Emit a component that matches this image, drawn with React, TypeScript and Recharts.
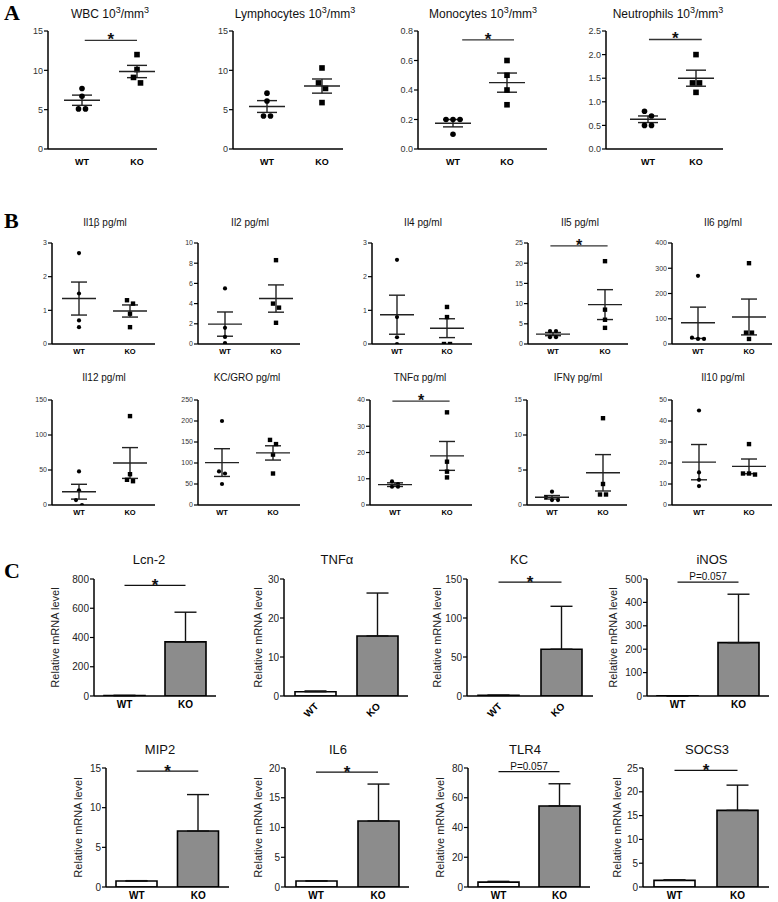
import React from 'react';
import {
  ScatterChart, Scatter, BarChart, Bar, Cell, XAxis, YAxis, ErrorBar, ReferenceLine,
} from 'recharts';

const groups = ['WT', 'KO'];
const sans = '"Liberation Sans", Arial, sans-serif';

// ---- panel A : blood counts (10^3/mm^3)
const aTitles = ['WBC', 'Lymphocytes', 'Monocytes', 'Neutrophils'];
const aMax = [15, 15, 0.8, 2.5];
const aTicks = [[0, 5, 10, 15], [0, 5, 10, 15], [0, 0.2, 0.4, 0.6, 0.8], [0, 0.5, 1, 1.5, 2, 2.5]];
const aDec = [0, 0, 1, 1];
const aWT = [[7.7, 6.7, 5.1, 5.1], [7.1, 6.1, 4.2, 4.2], [0.2, 0.2, 0.2, 0.1], [0.8, 0.7, 0.5, 0.5]];
const aKO = [[12, 10.1, 9.1, 8.4], [10.3, 8.4, 7.7, 5.9], [0.6, 0.5, 0.4, 0.3], [2.0, 1.4, 1.4, 1.2]];
const aMean = [[6.2, 9.85], [5.4, 8.0], [0.175, 0.45], [0.63, 1.5]];
const aSem = [[0.65, 0.78], [0.75, 0.9], [0.025, 0.065], [0.07, 0.17]];
const aSig = [13.8, null, 0.74, 2.32];

// ---- panel B : cytokines (pg/ml)
const bTitles = ['Il1β', 'Il2', 'Il4', 'Il5', 'Il6', 'Il12', 'KC/GRO', 'TNFα', 'IFNγ', 'Il10'];
const bMax = [3, 10, 3, 25, 400, 150, 250, 40, 15, 50];
const bTicks = [
  [0, 1, 2, 3], [0, 2, 4, 6, 8, 10], [0, 1, 2, 3], [0, 5, 10, 15, 20, 25], [0, 100, 200, 300, 400],
  [0, 50, 100, 150], [0, 50, 100, 150, 200, 250], [0, 10, 20, 30, 40], [0, 5, 10, 15], [0, 10, 20, 30, 40, 50],
];
const bWT = [
  [2.7, 1.5, 0.7, 0.5], [5.5, 1.6, 0.7, 0.1], [2.5, 0.8, 0.2, 0.0], [3.2, 3.2, 1.7, 1.7], [270, 25, 20, 20],
  [48, 21, 7, 0], [200, 80, 75, 50], [9.0, 8.0, 7.0, 7.0], [1.9, 1.1, 0.7, 0.7], [45, 15.5, 12, 9],
];
const bKO = [
  [1.3, 1.2, 0.9, 0.5], [8.3, 4.0, 3.6, 2.1], [1.1, 0.8, 0.0, 0.0], [20.5, 8.5, 6.0, 4.0], [320, 45, 45, 20],
  [127, 44, 36, 34], [155, 145, 120, 75], [35.3, 16.5, 12.7, 10.5], [12.4, 3.0, 1.5, 1.5], [29, 15, 15, 14.5],
];
const bMean = [
  [1.35, 0.98], [1.97, 4.5], [0.87, 0.47], [2.45, 9.75], [84, 107],
  [19, 60], [101, 124], [7.75, 18.7], [1.1, 4.6], [20.4, 18.4],
];
const bSem = [
  [0.49, 0.18], [1.2, 1.35], [0.58, 0.28], [0.4, 3.7], [62, 71],
  [10.6, 22], [33, 17], [0.7, 5.5], [0.25, 2.6], [8.4, 3.5],
];
const bSig = [null, null, null, 24.3, null, null, null, 39.6, null, null];

// ---- panel C : relative mRNA level
const cTitles = ['Lcn-2', 'TNFα', 'KC', 'iNOS', 'MIP2', 'IL6', 'TLR4', 'SOCS3'];
const cMax = [800, 30, 150, 500, 15, 20, 80, 25];
const cTicks = [
  [0, 200, 400, 600, 800], [0, 10, 20, 30], [0, 50, 100, 150], [0, 100, 200, 300, 400, 500],
  [0, 5, 10, 15], [0, 5, 10, 15, 20], [0, 20, 40, 60, 80], [0, 5, 10, 15, 20, 25],
];
const cWT = [3, 1.1, 0.8, 1, 0.75, 1.0, 3.3, 1.4];
const cKO = [370, 15.4, 60, 228, 7.05, 11.1, 54.5, 16.1];
const cWTErr = [1, 0.2, 0.2, 0.3, 0.05, 0.05, 0.5, 0.1];
const cKOErr = [203, 11, 55, 207, 4.6, 6.2, 14.9, 5.3];
const cSig = [757, null, 146, 487, 14.6, 19.3, 77.5, 24.5];
const cSigText = ['*', '', '*', 'P=0.057', '*', '*', 'P=0.057', '*'];

// ---- layout (pixel geometry of each small chart)
const aLayout = [
  { axisX: 48, plotW: 109, wtPos: 34, koPos: 89, tx: 110, sig: [1.05, 2.0] },
  { axisX: 233, plotW: 110, wtPos: 34, koPos: 89, tx: 295, sig: [1, 2] },
  { axisX: 418, plotW: 129, wtPos: 35, koPos: 89, tx: 483, sig: [1.17, 2.13] },
  { axisX: 606, plotW: 117, wtPos: 42, koPos: 90, tx: 668, sig: [1.02, 2.12] },
];
const bLayout = [
  { axisX: 52, plotW: 103, wtPos: 27, koPos: 78, tx: 105 },
  { axisX: 198, plotW: 102, wtPos: 27, koPos: 78, tx: 250 },
  { axisX: 372, plotW: 100, wtPos: 25, koPos: 75, tx: 423 },
  { axisX: 528, plotW: 100, wtPos: 25, koPos: 77, tx: 580 },
  { axisX: 672, plotW: 100, wtPos: 26, koPos: 77, tx: 723 },
  { axisX: 52, plotW: 103, wtPos: 27, koPos: 78, tx: 104 },
  { axisX: 198, plotW: 102, wtPos: 24, koPos: 75, tx: 247 },
  { axisX: 370, plotW: 102, wtPos: 25, koPos: 77, tx: 420 },
  { axisX: 527, plotW: 100, wtPos: 25, koPos: 76, tx: 578 },
  { axisX: 672, plotW: 100, wtPos: 27, koPos: 77, tx: 723 },
];
const cLayout = [
  { axisX: 94, plotW: 122, gap: 39, rot: false, tx: 149 },
  { axisX: 284, plotW: 124, gap: 26, rot: true, tx: 337 },
  { axisX: 467, plotW: 126, gap: 30, rot: true, tx: 519 },
  { axisX: 647, plotW: 122, gap: 34, rot: false, tx: 712 },
  { axisX: 106, plotW: 123, gap: 28, rot: false, tx: 160 },
  { axisX: 285, plotW: 124, gap: 27, rot: false, tx: 338 },
  { axisX: 468, plotW: 122, gap: 28, rot: false, tx: 525 },
  { axisX: 643, plotW: 126, gap: 26, rot: false, tx: 707 },
];

const aStyle = { tickFont: 9, xFont: 9, r: 2.8, sq: 5.6, meanHalf: 18, capHalf: 10, thr: 6, gap: 7, star: 17, xTickSize: 6, xTickMargin: 4 };
const bStyle = { tickFont: 7, xFont: 7.5, r: 2.1, sq: 4.4, meanHalf: 17, capHalf: 8, thr: 5, gap: 6, star: 16, xTickSize: 0, xTickMargin: 5 };

// spread overlapping points sideways, like Prism does
const spread = (vals: number[], k: number, thr: number, gap: number) => {
  const idx = vals.map((_, i) => i).sort((a, b) => vals[b] - vals[a]);
  const dx = vals.map(() => 0);
  let i = 0;
  while (i < idx.length) {
    let j = i + 1;
    while (j < idx.length && (vals[idx[i]] - vals[idx[j]]) * k < thr) j++;
    const n = j - i;
    for (let m = i; m < j; m++) dx[idx[m]] = (m - i - (n - 1) / 2) * gap;
    i = j;
  }
  return dx;
};

const SigLabel = (props: any) => {
  const vb = props.viewBox || { x: 0, y: 0, width: 0 };
  return (
    <text x={vb.x + (vb.width || 0) / 2} y={vb.y + props.dy} textAnchor="middle"
      fontSize={props.size} fontWeight={props.bold ? 'bold' : 'normal'} fill="#111" fontFamily={sans}>{props.text}</text>
  );
};

const Title = ({ x, y, size, children }: any) => (
  <div style={{
    position: 'absolute', left: x, top: y, transform: 'translate(-50%, -50%)', whiteSpace: 'nowrap',
    fontFamily: sans, fontSize: size, color: '#111', lineHeight: 1,
  }}>{children}</div>
);

const Letter = ({ x, y, children }: any) => (
  <div style={{
    position: 'absolute', left: x, top: y, fontFamily: '"Liberation Serif", serif', fontWeight: 'bold',
    fontSize: 22, lineHeight: 1, color: '#000',
  }}>{children}</div>
);

const DotPlot = ({ lay, top, plotH, max, ticks, dec, wt, ko, mean, sem, sig, s }: any) => {
  const yw = 30;
  const mt = 16;
  const xh = 22;
  const unit = lay.koPos - lay.wtPos;
  const lo = 1 - lay.wtPos / unit;
  const hi = lo + lay.plotW / unit;
  const k = plotH / max;
  const wdx = spread(wt, k, s.thr, s.gap);
  const kdx = spread(ko, k, s.thr, s.gap);
  const wtData = wt.map((v: number, i: number) => ({ x: 1, y: v, dx: wdx[i] }));
  const koData = ko.map((v: number, i: number) => ({ x: 2, y: v, dx: kdx[i] }));
  const meanData = groups.map((_, i) => ({ x: i + 1, y: mean[i], e: sem[i] }));
  const span = lay.sig || [0.95, 2.05];
  return (
    <div style={{ position: 'absolute', left: lay.axisX - yw, top: top - mt }}>
      <ScatterChart width={yw + lay.plotW + 4} height={mt + plotH + xh} margin={{ top: mt, right: 4, bottom: 0, left: 0 }}>
        <XAxis type="number" dataKey="x" domain={[lo, hi]} allowDataOverflow ticks={[1, 2]} interval={0}
          tickFormatter={(v: number) => groups[Math.round(v) - 1]} height={xh} tickLine={false}
          tickSize={s.xTickSize} tickMargin={s.xTickMargin}
          axisLine={{ stroke: '#000', strokeWidth: 1.5 }}
          tick={{ fontSize: s.xFont, fontWeight: 'bold', fill: '#000', fontFamily: sans }} />
        <YAxis type="number" dataKey="y" domain={[0, max]} allowDataOverflow ticks={ticks} interval={0} width={yw}
          tickFormatter={(v: number) => v.toFixed(dec)} tickSize={4} tickMargin={1}
          axisLine={{ stroke: '#000', strokeWidth: 1.5 }} tickLine={{ stroke: '#000', strokeWidth: 1.2 }}
          tick={{ fontSize: s.tickFont, fill: '#333', fontFamily: sans }} />
        <Scatter data={wtData} isAnimationActive={false}
          shape={(p: any) => <circle cx={p.cx + (p.payload?.dx || 0)} cy={p.cy} r={s.r} fill="#000" />} />
        <Scatter data={koData} isAnimationActive={false}
          shape={(p: any) => <rect x={p.cx + (p.payload?.dx || 0) - s.sq / 2} y={p.cy - s.sq / 2} width={s.sq} height={s.sq} fill="#000" />} />
        <Scatter data={meanData} isAnimationActive={false}
          shape={(p: any) => <line x1={p.cx - s.meanHalf} x2={p.cx + s.meanHalf} y1={p.cy} y2={p.cy} stroke="#222" strokeWidth={1.4} />}>
          <ErrorBar dataKey="e" direction="y" width={s.capHalf} stroke="#222" strokeWidth={1.4} isAnimationActive={false} />
        </Scatter>
        {sig != null && (
          <ReferenceLine segment={[{ x: span[0], y: sig }, { x: span[1], y: sig }]} stroke="#333" strokeWidth={1.3}
            ifOverflow="visible" label={<SigLabel text="*" size={s.star} bold dy={5} />} />
        )}
      </ScatterChart>
    </div>
  );
};

const RotTick = ({ x, y, payload }: any) => (
  <text x={x + 4} y={y + 6} transform={`rotate(-45 ${x + 4} ${y + 6})`} textAnchor="end"
    fontSize={10} fontWeight="bold" fill="#000" fontFamily={sans}>{payload.value}</text>
);

const BarPlot = ({ lay, top, plotH, max, ticks, wt, ko, wtErr, koErr, sig, sigText }: any) => {
  const yw = 50;
  const mt = 16;
  const xh = lay.rot ? 34 : 22;
  const data = groups.map((g, i) => ({ name: g, v: [wt, ko][i], e: [0, [wtErr, koErr][i]] }));
  const isStar = sigText === '*';
  return (
    <div style={{ position: 'absolute', left: lay.axisX - yw, top: top - mt }}>
      <BarChart width={yw + lay.plotW + 4} height={mt + plotH + xh} data={data}
        margin={{ top: mt, right: 4, bottom: 0, left: 0 }}>
        <XAxis dataKey="name" type="category" interval={0} height={xh} tickLine={false} tickSize={0} tickMargin={5}
          axisLine={{ stroke: '#000', strokeWidth: 1.5 }}
          tick={lay.rot ? <RotTick /> : { fontSize: 10, fontWeight: 'bold', fill: '#000', fontFamily: sans }} />
        <YAxis type="number" domain={[0, max]} allowDataOverflow ticks={ticks} interval={0} width={yw}
          tickSize={4} tickMargin={1} axisLine={{ stroke: '#000', strokeWidth: 1.5 }}
          tickLine={{ stroke: '#000', strokeWidth: 1.2 }}
          tick={{ fontSize: 10, fill: '#222', fontFamily: sans }}
          label={{
            value: 'Relative mRNA level', angle: -90, position: 'insideLeft', offset: yw - lay.gap,
            style: { textAnchor: 'middle', fontSize: 11, fill: '#222', fontFamily: sans },
          }} />
        <Bar dataKey="v" barSize={41} stroke="#000" strokeWidth={1.6} isAnimationActive={false}>
          {data.map((_, i) => <Cell key={i} fill={i === 0 ? '#ffffff' : '#8c8c8c'} />)}
          <ErrorBar dataKey="e" direction="y" width={11} stroke="#111" strokeWidth={1.4} isAnimationActive={false} />
        </Bar>
        {sig != null && (
          <ReferenceLine segment={[{ x: 'WT', y: sig }, { x: 'KO', y: sig }]} stroke="#111" strokeWidth={1.2}
            ifOverflow="visible"
            label={<SigLabel text={sigText} size={isStar ? 17 : 10} bold={isStar} dy={isStar ? 6 : -2} />} />
        )}
      </BarChart>
    </div>
  );
};

export default function App() {
  return (
    <div style={{ position: 'absolute', left: 0, top: 0, width: 778, height: 902, background: '#fff', overflow: 'hidden' }}>
      <Letter x={4} y={2}>A</Letter>
      {aTitles.map((t, i) => (
        <Title key={t} x={aLayout[i].tx} y={13} size={12}>{t} 10<sup style={{ fontSize: 9 }}>3</sup>/mm<sup style={{ fontSize: 9 }}>3</sup></Title>
      ))}
      {aTitles.map((t, i) => (
        <DotPlot key={t} lay={aLayout[i]} top={31} plotH={118} max={aMax[i]} ticks={aTicks[i]} dec={aDec[i]}
          wt={aWT[i]} ko={aKO[i]} mean={aMean[i]} sem={aSem[i]} sig={aSig[i]} s={aStyle} />
      ))}

      <Letter x={4} y={210}>B</Letter>
      {bTitles.map((t, i) => (
        <Title key={t} x={bLayout[i].tx} y={i < 5 ? 223 : 378} size={10}>{t} pg/ml</Title>
      ))}
      {bTitles.map((t, i) => (
        <DotPlot key={t} lay={bLayout[i]} top={i < 5 ? 243 : 400} plotH={i < 5 ? 101 : 105} max={bMax[i]}
          ticks={bTicks[i]} dec={0} wt={bWT[i]} ko={bKO[i]} mean={bMean[i]} sem={bSem[i]} sig={bSig[i]} s={bStyle} />
      ))}

      <Letter x={4} y={560}>C</Letter>
      {cTitles.map((t, i) => (
        <Title key={t} x={cLayout[i].tx} y={i < 4 ? 559 : 749} size={13}>{t}</Title>
      ))}
      {cTitles.map((t, i) => (
        <BarPlot key={t} lay={cLayout[i]} top={i < 4 ? 579 : 768} plotH={i < 4 ? 117 : 119} max={cMax[i]}
          ticks={cTicks[i]} wt={cWT[i]} ko={cKO[i]} wtErr={cWTErr[i]} koErr={cKOErr[i]}
          sig={cSig[i]} sigText={cSigText[i]} />
      ))}
    </div>
  );
}
